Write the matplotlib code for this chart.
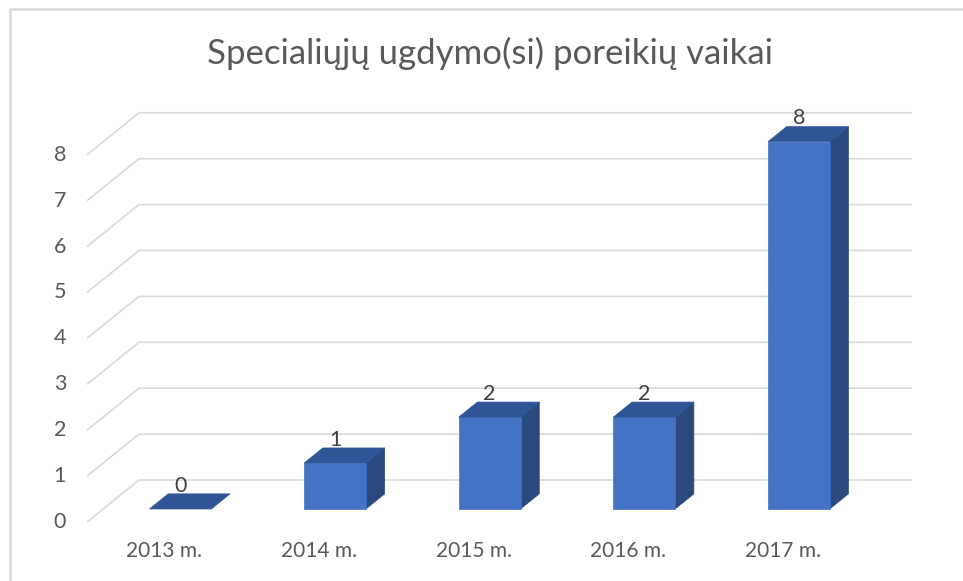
import matplotlib
matplotlib.use("Agg")
import matplotlib.pyplot as plt
from matplotlib.patches import Polygon
from matplotlib.lines import Line2D

categories = ["2013 m.", "2014 m.", "2015 m.", "2016 m.", "2017 m."]
values = [0, 1, 2, 2, 8]
y_ticks = [0, 1, 2, 3, 4, 5, 6, 7, 8]
title = "Specialiųjų ugdymo(si) poreikių vaikai"

plt.rcParams['font.family'] = ['Lato', 'DejaVu Sans']

W, H = 963, 581
fig = plt.figure(figsize=(W / 100, H / 100), dpi=100)
ax = fig.add_axes([0, 0, 1, 1])

# pixel mapping of the front plane
x0_px, xstep_px = 87, 154.6
y0_px, ystep_px = 522, 45.9
ax.set_xlim(-x0_px / xstep_px, (W - x0_px) / xstep_px)
ax.set_ylim((y0_px - H) / ystep_px, y0_px / ystep_px)
ax.axis('off')

# oblique depth offsets (per unit depth)
kx = 52 / xstep_px
ky = 42 / ystep_px
n = len(categories)
grid_c = "#D9D9D9"
text_c = "#595959"

for v in y_ticks:
    ax.plot([0, kx, n + kx], [v, v + ky, v + ky], color=grid_c, lw=1.2,
            solid_capstyle='butt', zorder=1)
    ax.text(-0.135, v, str(v), ha='right', va='center', fontsize=15.5, color=text_c)

d0, d1 = 0.31, 0.67
hw = 0.2
front_c, top_c, side_c = "#4472C4", "#2F5597", "#2A4A7F"
for i, (cat, v) in enumerate(zip(categories, values)):
    xl, xr = i + 0.5 - hw, i + 0.5 + hw
    fx0, fx1 = xl + d0 * kx, xr + d0 * kx
    bx0, bx1 = xl + d1 * kx, xr + d1 * kx
    fy, by = d0 * ky, d1 * ky
    if v > 0:
        ax.add_patch(Polygon([(fx1, fy), (bx1, by), (bx1, v + by), (fx1, v + fy)],
                             closed=True, facecolor=side_c, edgecolor=side_c, lw=0.5, zorder=3))
        ax.add_patch(Polygon([(fx0, fy), (fx1, fy), (fx1, v + fy), (fx0, v + fy)],
                             closed=True, facecolor=front_c, edgecolor=front_c, lw=0.5, zorder=4))
    ax.add_patch(Polygon([(fx0, v + fy), (fx1, v + fy), (bx1, v + by), (bx0, v + by)],
                         closed=True, facecolor=top_c, edgecolor=top_c, lw=0.5, zorder=4))
    ax.text((fx0 + fx1) / 2, v + by - 0.04, str(v), ha='center', va='bottom',
            fontsize=15.5, color="#404040", zorder=5)
    ax.text(i + 0.5, -0.63, cat, ha='center', va='center', fontsize=15, color=text_c)

fig.text(490 / W, 1 - 53 / H, title, ha='center', va='center', fontsize=25, color=text_c)

# chart frame (top and left edges visible)
fig.add_artist(Line2D([9.5 / W, 9.5 / W, 1], [0, 1 - 8.5 / H, 1 - 8.5 / H],
                      transform=fig.transFigure, color=grid_c, lw=1.8))

fig.savefig("out.png", dpi=100)
